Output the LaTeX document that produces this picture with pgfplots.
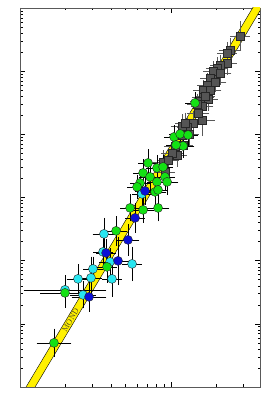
\documentclass[border=0pt]{standalone}
\usepackage{pgfplots}
\pgfplotsset{compat=1.18}
\definecolor{sqgray}{RGB}{85,85,85}
\definecolor{mgreen}{RGB}{20,225,20}
\definecolor{mcyan}{RGB}{40,230,240}
\definecolor{mblue}{RGB}{10,15,215}
\definecolor{myellow}{RGB}{255,240,0}
\begin{document}
\begin{tikzpicture}
\useasboundingbox (-20pt,-19pt) rectangle (258pt,387pt);
\begin{axis}[at={(0,0)}, anchor=south west, scale only axis,
  width=240pt, height=379pt,
  xmin=1, xmax=2.589, ymin=6, ymax=12,
  xtick={1,2}, xticklabels={}, ytick={6,7,8,9,10,11,12}, yticklabels={},
  minor xtick={1.301,1.477,1.602,1.699,1.778,1.845,1.903,1.954,2.301,2.477},
  minor ytick={6.301,6.477,6.602,6.699,6.778,6.845,6.903,6.954,
               7.301,7.477,7.602,7.699,7.778,7.845,7.903,7.954,
               8.301,8.477,8.602,8.699,8.778,8.845,8.903,8.954,
               9.301,9.477,9.602,9.699,9.778,9.845,9.903,9.954,
               10.301,10.477,10.602,10.699,10.778,10.845,10.903,10.954,
               11.301,11.477,11.602,11.699,11.778,11.845,11.903,11.954},
  tick align=inside, major tick length=5pt, minor tick length=2.5pt,
  axis line style={black!65, line width=0.9pt},
  every tick/.style={black, line width=0.5pt},
  error bars/error bar style={line width=0.6pt},
  error bars/error mark options={mark size=2.2pt, line width=0.6pt},
]
% MOND band
\addplot[fill=myellow, draw=black, line width=0.4pt] coordinates {(0.9,5.20) (2.7,12.40) (2.7,12.64) (0.9,5.44)} -- cycle;
\node[rotate=59.1, font=\fontsize{7.5}{7.5}\selectfont, text=black!85!olive, inner sep=0pt] at (axis cs:1.335,7.06) {MOND};

% gray squares
\addplot[only marks, mark=square*, mark size=4.2pt, mark options={fill=sqgray, draw=black!85, line width=0.4pt},
  error bars/.cd, x dir=both, x explicit, y dir=both, y explicit,
  error bar style={black!65}, error mark options={black!65, mark size=2.2pt}]
  table[x=x, y=y, x error=ex, y error=ey] {
x y ex ey
2.457 11.557 0.05 0.20
2.391 11.335 0.06 0.15
2.371 11.288 0.05 0.14
2.371 11.130 0.05 0.15
2.325 11.098 0.05 0.13
2.305 11.051 0.06 0.14
2.278 11.003 0.05 0.12
2.325 10.971 0.06 0.15
2.258 10.892 0.05 0.14
2.291 10.829 0.06 0.13
2.238 10.782 0.05 0.15
2.212 10.703 0.05 0.12
2.258 10.703 0.06 0.14
2.212 10.592 0.06 0.13
2.245 10.560 0.05 0.15
2.192 10.528 0.05 0.12
2.205 10.449 0.06 0.14
2.225 10.608 0.05 0.12
2.172 10.481 0.05 0.13
2.205 10.228 0.07 0.22
2.179 10.339 0.06 0.14
2.146 10.180 0.05 0.16
2.106 10.117 0.05 0.14
2.073 10.133 0.06 0.15
2.093 10.180 0.05 0.13
2.073 9.990 0.06 0.16
2.119 10.006 0.05 0.14
2.080 9.832 0.05 0.15
2.027 9.816 0.06 0.14
2.040 9.674 0.05 0.15
2.007 9.706 0.06 0.16
1.947 9.563 0.05 0.15
1.960 9.405 0.05 0.14
1.980 9.595 0.06 0.15
};

% cyan circles
\addplot[only marks, mark=*, mark size=4.5pt, mark options={fill=mcyan, draw=black!85, line width=0.4pt},
  error bars/.cd, x dir=both, x explicit, y dir=both, y explicit,
  error bar style={black}, error mark options={black, mark size=2.2pt}]
  table[x=x, y=y, x error=ex, y error=ey] {
x y ex ey
1.808 9.057 0.05 0.18
1.556 8.424 0.06 0.22
1.550 8.139 0.05 0.20
1.596 7.981 0.06 0.18
1.742 7.949 0.05 0.24
1.483 7.870 0.05 0.16
1.384 7.712 0.06 0.20
1.470 7.728 0.06 0.30
1.609 7.712 0.05 0.25
1.298 7.538 0.26 0.20
1.417 7.459 0.07 0.18
};

% green circles
\addplot[only marks, mark=*, mark size=4.5pt, mark options={fill=mgreen, draw=black!85, line width=0.4pt},
  error bars/.cd, x dir=both, x explicit, y dir=both, y explicit,
  error bar style={black}, error mark options={black, mark size=2.2pt}]
  table[x=x, y=y, x error=ex, y error=ey] {
x y ex ey
2.159 10.497 0.05 0.14
2.020 9.959 0.05 0.15
2.060 10.006 0.06 0.14
2.113 9.990 0.05 0.16
2.080 9.816 0.06 0.15
2.033 9.832 0.05 0.14
1.848 9.547 0.05 0.18
1.907 9.468 0.06 0.17
1.947 9.484 0.05 0.16
1.815 9.389 0.05 0.18
1.861 9.326 0.06 0.17
1.907 9.247 0.05 0.16
1.960 9.326 0.05 0.18
1.974 9.247 0.06 0.17
1.795 9.231 0.05 0.18
1.775 9.168 0.05 0.16
1.894 9.089 0.06 0.18
1.914 9.120 0.05 0.17
1.729 8.835 0.05 0.18
1.815 8.804 0.06 0.17
1.914 8.835 0.06 0.18
1.636 8.472 0.06 0.20
1.576 7.902 0.05 0.22
1.298 7.490 0.15 0.20
1.225 6.699 0.10 0.19
};

% blue circles
\addplot[only marks, mark=*, mark size=4.5pt, mark options={fill=mblue, draw=black!85, line width=0.4pt},
  error bars/.cd, x dir=both, x explicit, y dir=both, y explicit,
  error bar style={black}, error mark options={black, mark size=2.2pt}]
  table[x=x, y=y, x error=ex, y error=ey] {
x y ex ey
1.828 9.104 0.05 0.18
1.762 8.677 0.05 0.20
1.715 8.329 0.06 0.22
1.570 8.123 0.05 0.18
1.649 7.997 0.06 0.35
1.457 7.427 0.10 0.20
};
\end{axis}
\end{tikzpicture}
\end{document}
